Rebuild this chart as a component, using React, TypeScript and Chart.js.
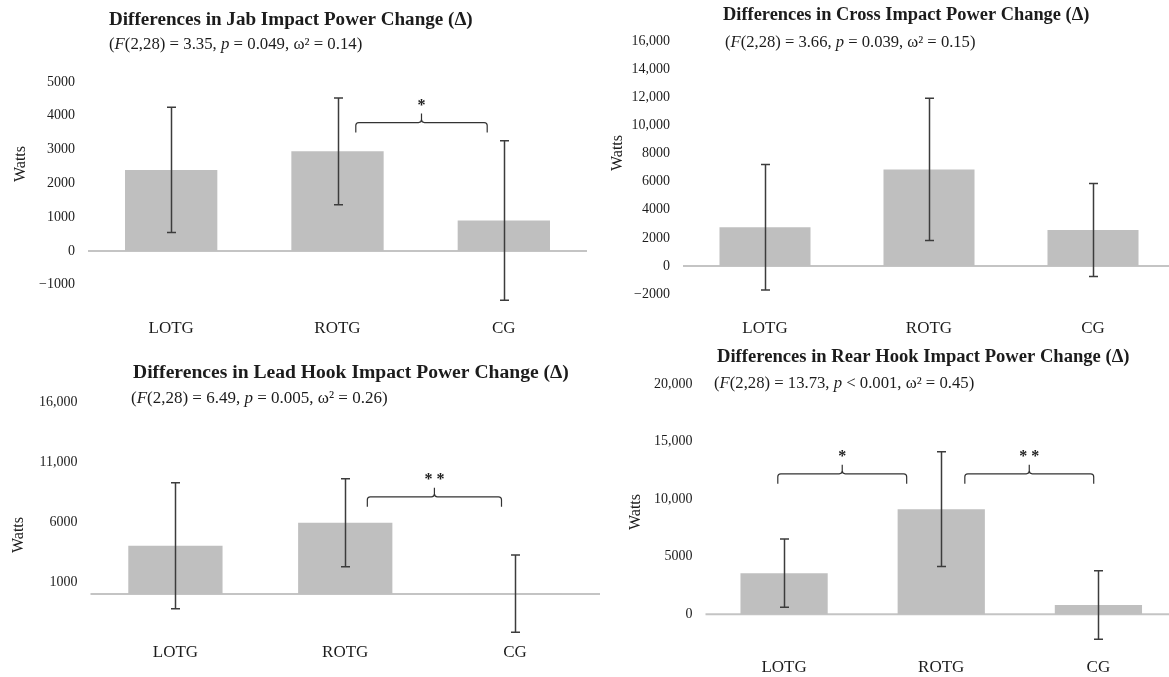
import React, { useEffect, useRef } from 'react';
import { Chart, registerables } from 'chart.js';

Chart.register(...registerables);

// ---------- DATA ----------
const categories = ['LOTG', 'ROTG', 'CG'];

const jabMeans = [2400, 2950, 900];
const jabSD = [1850, 1580, 2360];
const jabTicks = [-1000, 0, 1000, 2000, 3000, 4000, 5000];
const jabTickLabels = ['−1000', '0', '1000', '2000', '3000', '4000', '5000'];
const jabRange = [-2000, 5000];
const jabBracketFrom = [1.11];
const jabBracketTo = [1.9];
const jabBracketLevel = [3800];
const jabBracketLabel = ['*'];

const crossMeans = [2750, 6870, 2560];
const crossSD = [4460, 5060, 3310];
const crossTicks = [-2000, 0, 2000, 4000, 6000, 8000, 10000, 12000, 14000, 16000];
const crossTickLabels = ['−2000', '0', '2000', '4000', '6000', '8000', '10,000', '12,000', '14,000', '16,000'];
const crossRange = [-3000, 16000];
const crossBracketFrom: number[] = [];
const crossBracketTo: number[] = [];
const crossBracketLevel: number[] = [];
const crossBracketLabel: string[] = [];

const leadMeans = [4030, 5940, 30];
const leadSD = [5250, 3670, 3220];
const leadTicks = [1000, 6000, 11000, 16000];
const leadTickLabels = ['1000', '6000', '11,000', '16,000'];
const leadRange = [-4000, 16000];
const leadBracketFrom = [1.13];
const leadBracketTo = [1.92];
const leadBracketLevel = [8100];
const leadBracketLabel = ['**'];

const rearMeans = [3570, 9130, 810];
const rearSD = [2960, 4990, 2970];
const rearTicks = [0, 5000, 10000, 15000, 20000];
const rearTickLabels = ['0', '5000', '10,000', '15,000', '20,000'];
const rearRange = [-3000, 20000];
const rearBracketFrom = [-0.04, 1.15];
const rearBracketTo = [0.78, 1.97];
const rearBracketLevel = [12200, 12200];
const rearBracketLabel = ['*', '**'];

const titles = [
  'Differences in Jab Impact Power Change (Δ)',
  'Differences in Cross Impact Power Change (Δ)',
  'Differences in Lead Hook Impact Power Change (Δ)',
  'Differences in Rear Hook Impact Power Change (Δ)',
];
// *...* marks italic parts
const subtitles = [
  '(*F*(2,28) = 3.35, *p* = 0.049, ω² = 0.14)',
  '(*F*(2,28) = 3.66, *p* = 0.039, ω² = 0.15)',
  '(*F*(2,28) = 6.49, *p* = 0.005, ω² = 0.26)',
  '(*F*(2,28) = 13.73, *p* < 0.001, ω² = 0.45)',
];
const yAxisTitle = 'Watts';

// ---------- LAYOUT / STYLE ----------
const FONT = '"Liberation Serif", "Times New Roman", serif';
const TEXT = '#1c1c1c';
const BAR = '#bfbfbf';
const ZERO = '#c4c4c4';
const ERR = '#3c3c3c';

const panels = [
  {
    means: jabMeans, sd: jabSD, ticks: jabTicks, tickLabels: jabTickLabels, range: jabRange,
    bFrom: jabBracketFrom, bTo: jabBracketTo, bLevel: jabBracketLevel, bLabel: jabBracketLabel,
    title: titles[0], subtitle: subtitles[0],
    canvas: { left: 0, top: 0, width: 595, height: 340 },
    area: { left: 88, right: 587, top: 82, bottom: 318.6 },
    titlePos: [109, 20, 19.1], subPos: [109, 45, 16.8], watts: [21, 164], xLabelY: 329,
  },
  {
    means: crossMeans, sd: crossSD, ticks: crossTicks, tickLabels: crossTickLabels, range: crossRange,
    bFrom: crossBracketFrom, bTo: crossBracketTo, bLevel: crossBracketLevel, bLabel: crossBracketLabel,
    title: titles[1], subtitle: subtitles[1],
    canvas: { left: 595, top: 0, width: 581, height: 340 },
    area: { left: 683, right: 1175, top: 41, bottom: 308.2 },
    titlePos: [723, 15, 18.4], subPos: [725, 43, 16.6], watts: [618, 153], xLabelY: 329,
  },
  {
    means: leadMeans, sd: leadSD, ticks: leadTicks, tickLabels: leadTickLabels, range: leadRange,
    bFrom: leadBracketFrom, bTo: leadBracketTo, bLevel: leadBracketLevel, bLabel: leadBracketLabel,
    title: titles[2], subtitle: subtitles[2],
    canvas: { left: 0, top: 340, width: 605, height: 337 },
    area: { left: 90.5, right: 600, top: 402, bottom: 642 },
    titlePos: [133, 373, 19.6], subPos: [131, 399, 17], watts: [19, 535], xLabelY: 653,
  },
  {
    means: rearMeans, sd: rearSD, ticks: rearTicks, tickLabels: rearTickLabels, range: rearRange,
    bFrom: rearBracketFrom, bTo: rearBracketTo, bLevel: rearBracketLevel, bLabel: rearBracketLabel,
    title: titles[3], subtitle: subtitles[3],
    canvas: { left: 605, top: 340, width: 572, height: 337 },
    area: { left: 705.5, right: 1177, top: 384, bottom: 648.8 },
    titlePos: [717, 357, 18.6], subPos: [714, 384, 16.7], watts: [636, 512], xLabelY: 668,
  },
];

function drawRich(ctx: CanvasRenderingContext2D, text: string, x: number, y: number, size: number) {
  const parts = text.split('*');
  let cx = x;
  parts.forEach((p, i) => {
    if (!p) return;
    ctx.font = `${i % 2 === 1 ? 'italic ' : ''}${size}px ${FONT}`;
    ctx.fillText(p, cx, y);
    cx += ctx.measureText(p).width;
  });
}

const decorPlugin = {
  id: 'panelDecor',
  beforeDatasetsDraw(chart: any) {
    const { ctx, chartArea, scales } = chart;
    const y0 = scales.y.getPixelForValue(0);
    ctx.save();
    ctx.strokeStyle = ZERO;
    ctx.lineWidth = 2;
    ctx.beginPath();
    ctx.moveTo(chartArea.left, y0);
    ctx.lineTo(chartArea.right, y0);
    ctx.stroke();
    ctx.restore();
  },
  afterDatasetsDraw(chart: any, _args: any, o: any) {
    const { ctx, scales } = chart;
    const x = scales.x;
    const y = scales.y;
    const p = o.panel;
    const means: number[] = chart.data.datasets[0].data;
    ctx.save();
    // error bars
    ctx.strokeStyle = ERR;
    ctx.lineWidth = 1.5;
    means.forEach((m, i) => {
      const xp = Math.round(x.getPixelForValue(i)) + 0.5;
      const t = y.getPixelForValue(m + p.sd[i]);
      const b = y.getPixelForValue(m - p.sd[i]);
      ctx.beginPath();
      ctx.moveTo(xp, t);
      ctx.lineTo(xp, b);
      ctx.moveTo(xp - 4.5, t);
      ctx.lineTo(xp + 4.5, t);
      ctx.moveTo(xp - 4.5, b);
      ctx.lineTo(xp + 4.5, b);
      ctx.stroke();
    });
    // brackets
    ctx.lineWidth = 1.2;
    ctx.strokeStyle = '#333';
    p.bFrom.forEach((f: number, i: number) => {
      const x1 = x.getPixelForValue(f);
      const x2 = x.getPixelForValue(p.bTo[i]);
      const xc = (x1 + x2) / 2;
      const yl = y.getPixelForValue(p.bLevel[i]);
      const drop = 10, peak = 9, r = 3;
      ctx.beginPath();
      ctx.moveTo(x1, yl + drop);
      ctx.lineTo(x1, yl + r);
      ctx.quadraticCurveTo(x1, yl, x1 + r, yl);
      ctx.lineTo(xc - r, yl);
      ctx.quadraticCurveTo(xc, yl, xc, yl - r);
      ctx.lineTo(xc, yl - peak);
      ctx.moveTo(xc, yl - r);
      ctx.quadraticCurveTo(xc, yl, xc + r, yl);
      ctx.lineTo(x2 - r, yl);
      ctx.quadraticCurveTo(x2, yl, x2, yl + r);
      ctx.lineTo(x2, yl + drop);
      ctx.stroke();
      ctx.fillStyle = TEXT;
      ctx.font = `bold 16px ${FONT}`;
      ctx.textAlign = 'center';
      ctx.textBaseline = 'middle';
      ctx.fillText(p.bLabel[i].split('').join(' '), xc, yl - peak - 8);
    });
    // titles
    const cl = p.canvas.left, ct = p.canvas.top;
    ctx.fillStyle = TEXT;
    ctx.textAlign = 'left';
    ctx.textBaseline = 'middle';
    ctx.font = `bold ${p.titlePos[2]}px ${FONT}`;
    ctx.fillText(p.title, p.titlePos[0] - cl, p.titlePos[1] - ct);
    drawRich(ctx, p.subtitle, p.subPos[0] - cl, p.subPos[1] - ct, p.subPos[2]);
    // y axis title
    ctx.save();
    ctx.translate(p.watts[0] - cl, p.watts[1] - ct);
    ctx.rotate(-Math.PI / 2);
    ctx.textAlign = 'center';
    ctx.font = `16px ${FONT}`;
    ctx.fillText(yAxisTitle, 0, 0);
    ctx.restore();
    ctx.restore();
  },
};

function Panel({ panel }: { panel: any }) {
  const ref = useRef<HTMLCanvasElement>(null);
  useEffect(() => {
    const c = panel.canvas;
    const a = panel.area;
    const xFont = 17;
    const chart = new Chart(ref.current!, {
      type: 'bar',
      data: {
        labels: categories,
        datasets: [{
          data: panel.means,
          backgroundColor: BAR,
          borderWidth: 0,
          barPercentage: 0.555,
          categoryPercentage: 1,
        }],
      },
      options: {
        responsive: false,
        animation: false,
        events: [],
        layout: {
          padding: {
            left: 0,
            top: a.top - c.top,
            right: c.left + c.width - a.right,
            bottom: 0,
          },
        },
        plugins: {
          legend: { display: false },
          tooltip: { enabled: false },
          title: { display: false },
          panelDecor: { panel },
        } as any,
        scales: {
          x: {
            type: 'category',
            grid: { display: false, drawTicks: false },
            border: { display: false },
            ticks: {
              color: TEXT,
              font: { family: FONT, size: xFont },
              padding: panel.xLabelY - a.bottom - xFont * 0.6,
              maxRotation: 0,
              autoSkip: false,
            },
            afterFit: (s: any) => { s.height = c.top + c.height - a.bottom; },
          },
          y: {
            type: 'linear',
            min: panel.range[0],
            max: panel.range[1],
            grid: { display: false, drawTicks: false },
            border: { display: false },
            ticks: {
              color: TEXT,
              font: { family: FONT, size: 14 },
              padding: 13,
              callback: (v: any) => {
                const k = panel.ticks.indexOf(v);
                return k >= 0 ? panel.tickLabels[k] : '';
              },
            },
            afterBuildTicks: (s: any) => {
              s.ticks = panel.ticks.map((v: number) => ({ value: v }));
            },
            afterFit: (s: any) => { s.width = a.left - c.left; },
          },
        },
      },
      plugins: [decorPlugin as any],
    });
    return () => chart.destroy();
  }, [panel]);
  const c = panel.canvas;
  return (
    <canvas
      ref={ref}
      width={c.width}
      height={c.height}
      style={{ position: 'absolute', left: c.left, top: c.top, width: c.width, height: c.height }}
    />
  );
}

export default function App() {
  return (
    <div style={{ position: 'fixed', left: 0, top: 0, width: 1169, height: 677, overflow: 'hidden', background: '#fff' }}>
      {panels.map((p, i) => <Panel key={i} panel={p} />)}
    </div>
  );
}
